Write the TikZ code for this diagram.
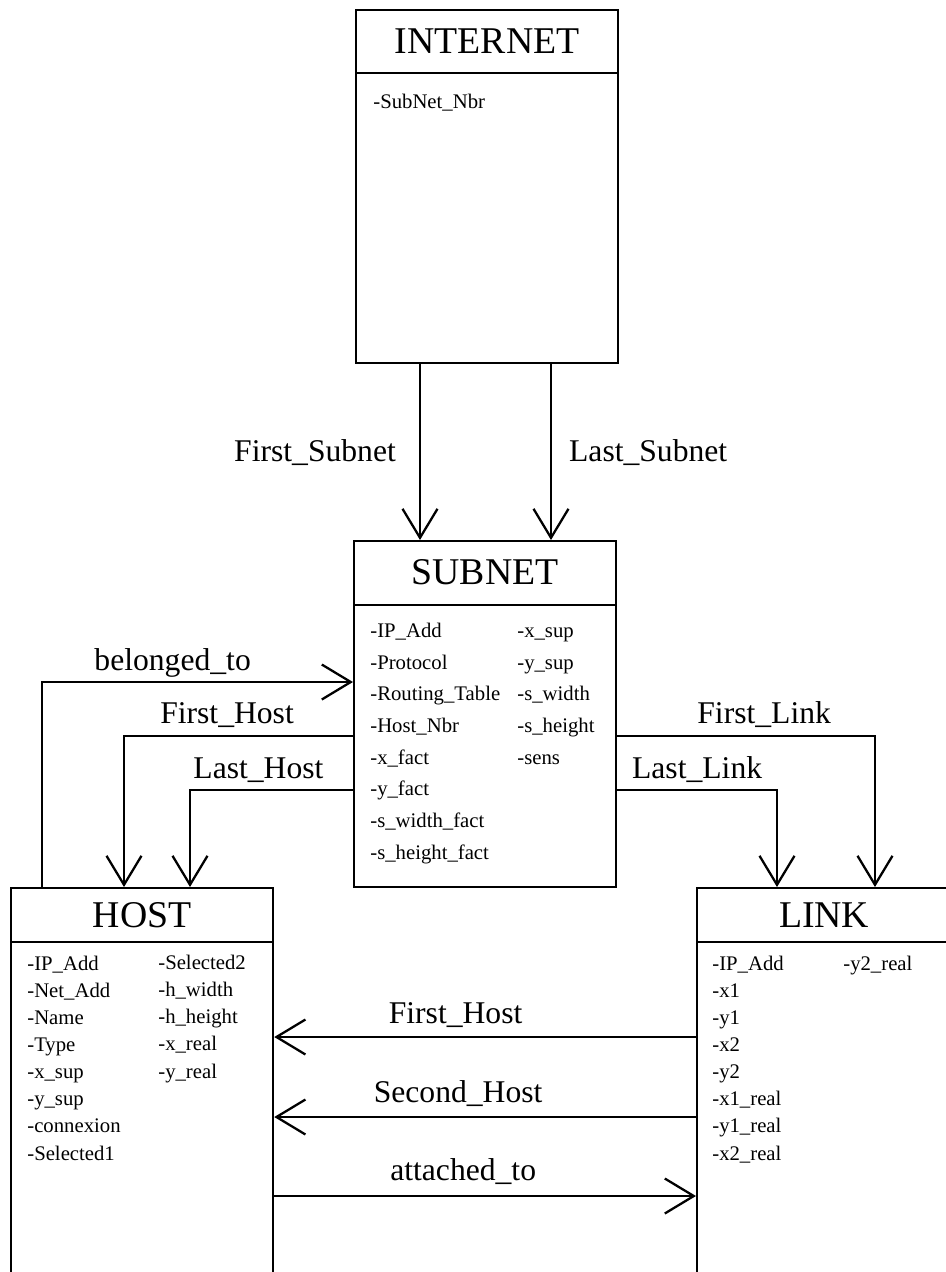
\documentclass[tikz,border=0pt]{standalone}
\usepackage{fontspec}
\setmainfont{Liberation Serif}
\usetikzlibrary{arrows.meta, positioning, calc}
\tikzset{
	classbox/.style ={rectangle, draw=black, line width=1.3pt, anchor=north west, minimum width=5.24cm, inner sep=0pt},
	classname/.style={font=\fontsize{21.5}{24}\selectfont, inner sep=0pt},
	headline/.style ={line width=1.3pt},
	attr/.style     ={font=\fontsize{11.8}{#1}\selectfont, align=left, anchor=base west, inner sep=0pt},
	attr/.default=15.4,
	rel/.style      ={-{Straight Barb[length=5.8mm, width=7mm]}, line width=1.3pt},
	rellabel/.style ={font=\fontsize{18}{21}\selectfont, inner sep=0pt},
}
\begin{document}
\begin{tikzpicture}[x=0.02cm, y=-0.02cm]
	\fill[white] (0,0) rectangle (946,1272);
	\useasboundingbox (0,0) rectangle (946,1272);
	\clip (0,0) rectangle (946,1272);
	% class boxes
	\node[classbox, minimum height=7.06cm] (internet) at (355,9) {};
	\node[classbox, minimum height=6.92cm] (subnet) at (353,540) {};
	\node[classbox, minimum height=8.4cm] (host) at (10,887) {};
	\node[classbox, minimum width=5.08cm, minimum height=8.4cm] (link) at (696,887) {};
	% headers
	\node[classname] (internetname) at ($(internet.north)+(0,32)$) {INTERNET};
	\node[classname] (subnetname) at ($(subnet.north)+(0,32)$) {SUBNET};
	\node[classname] (hostname) at ($(host.north)+(0,28)$) {HOST};
	\node[classname] (linkname) at ($(link.north)+(0,28)$) {LINK};
	\draw[headline] ($(internet.north west)+(0,64)$) -- ($(internet.north east)+(0,64)$);
	\draw[headline] ($(subnet.north west)+(0,65)$) -- ($(subnet.north east)+(0,65)$);
	\draw[headline] ($(host.north west)+(0,55)$) -- ($(host.north east)+(0,55)$);
	\draw[headline] ($(link.north west)+(0,55)$) -- ($(link.north east)+(0,55)$);
	% attributes (base = last line)
	\node[attr] (internetattr) at ($(internet.north west)+(18,99)$) {-SubNet\_Nbr};
	\node[attr=18] (subnetattra) at ($(subnet.north west)+(17,319)$) {-IP\_Add\\-Protocol\\-Routing\_Table\\-Host\_Nbr\\-x\_fact\\-y\_fact\\-s\_width\_fact\\-s\_height\_fact};
	\node[attr=18] (subnetattrb) at ($(subnet.north west)+(164,224)$) {-x\_sup\\-y\_sup\\-s\_width\\-s\_height\\-sens};
	\node[attr] (hostattra) at ($(host.north west)+(17,273)$) {-IP\_Add\\-Net\_Add\\-Name\\-Type\\-x\_sup\\-y\_sup\\-connexion\\-Selected1};
	\node[attr] (hostattrb) at ($(host.north west)+(148,191)$) {-Selected2\\-h\_width\\-h\_height\\-x\_real\\-y\_real};
	\node[attr] (linkattra) at ($(link.north west)+(16,273)$) {-IP\_Add\\-x1\\-y1\\-x2\\-y2\\-x1\_real\\-y1\_real\\-x2\_real};
	\node[attr] (linkattrb) at ($(link.north west)+(147,83)$) {-y2\_real};
	% routing points
	\coordinate (fsub) at (420,0);
	\coordinate (lsub) at (551,0);
	\coordinate (bel) at (42,682);
	\coordinate (fh) at (124,736);
	\coordinate (lh) at (190,790);
	\coordinate (fl) at (875,736);
	\coordinate (ll) at (777,790);
	\coordinate (hfirst) at (0,1037);
	\coordinate (hsecond) at (0,1117);
	\coordinate (att) at (0,1196);
	% relations
	\draw[rel] (internet.south -| fsub) -- node[rellabel, left=0.46cm] {First\_Subnet} (subnet.north -| fsub);
	\draw[rel] (internet.south -| lsub) -- node[rellabel, right=0.34cm] {Last\_Subnet} (subnet.north -| lsub);
	\draw[rel] (host.north -| bel) |- node[rellabel, pos=0.71, anchor=base, yshift=0.24cm] {belonged\_to} (subnet.west |- bel);
	\draw[rel] (subnet.west |- fh) -| node[rellabel, pos=0.275, anchor=base, yshift=0.26cm] {First\_Host} (host.north -| fh);
	\draw[rel] (subnet.west |- lh) -| node[rellabel, pos=0.29, anchor=base, yshift=0.24cm] {Last\_Host} (host.north -| lh);
	\draw[rel] (subnet.east |- fl) -| node[rellabel, pos=0.285, anchor=base, yshift=0.26cm] {First\_Link} (link.north -| fl);
	\draw[rel] (subnet.east |- ll) -| node[rellabel, pos=0.25, anchor=base, yshift=0.24cm] {Last\_Link} (link.north -| ll);
	\draw[rel] (link.west |- hfirst) -- node[rellabel, pos=0.57, anchor=base, yshift=0.28cm] {First\_Host} (host.east |- hfirst);
	\draw[rel] (link.west |- hsecond) -- node[rellabel, pos=0.564, anchor=base, yshift=0.3cm] {Second\_Host} (host.east |- hsecond);
	\draw[rel] (host.east |- att) -- node[rellabel, pos=0.448, anchor=base, yshift=0.32cm] {attached\_to} (link.west |- att);
\end{tikzpicture}
\end{document}
